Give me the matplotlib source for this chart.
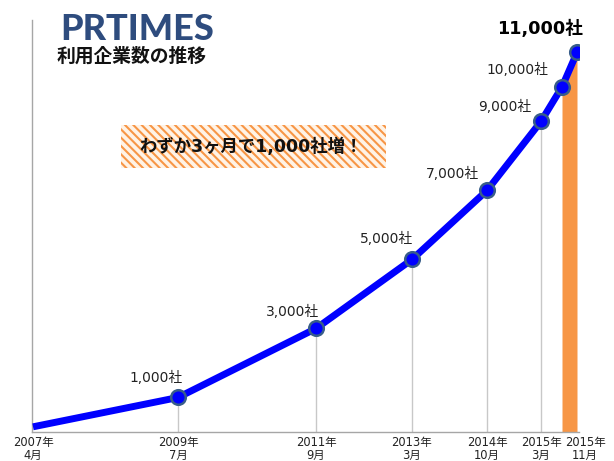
import matplotlib
matplotlib.use('Agg')
import matplotlib.pyplot as plt
from matplotlib.patches import Rectangle
import matplotlib.transforms as mtransforms

plt.rcParams['font.family'] = ['DejaVu Sans', 'Noto Sans CJK JP']
plt.rcParams['hatch.linewidth'] = 1.5

# ---- data ----
x_pos = [0, 145, 283, 379, 454, 508, 529, 544]
counts = [150, 1000, 3000, 5000, 7000, 9000, 10000, 11000]
point_labels = ['', '1,000社', '3,000社', '5,000社', '7,000社', '9,000社', '10,000社', '11,000社']
tick_idx = [0, 1, 2, 3, 4, 5, 7]
tick_labels = ['2007年\n4月', '2009年\n7月', '2011年\n9月', '2013年\n3月',
               '2014年\n10月', '2015年\n3月', '2015年\n11月']
logo_text = 'PRTIMES'
subtitle = '利用企業数の推移'
callout = 'わずか3ヶ月で1,000社増！'

# ---- styles / offsets ----
label_offsets = [(0, 0), (5, 20), (3, 17), (1, 21), (-8, 17), (-10, 15), (-14, 17), (6, 24)]
BLUE = '#0000FF'
ORANGE = '#F79646'
GRAY = '#A6A6A6'
CJK = ['DejaVu Sans', 'Noto Sans CJK JP']

fig = plt.figure(figsize=(6.14, 4.61), dpi=100)
ax = fig.add_axes([32/614, 29/461, 547/614, 412/461])
ax.set_xlim(-1, 546)
ax.set_ylim(0, 11940)

for s in ['top', 'right']:
    ax.spines[s].set_visible(False)
for s in ['left', 'bottom']:
    ax.spines[s].set_color(GRAY)
    ax.spines[s].set_linewidth(1.0)
ax.set_yticks([])

# drop lines
ax.vlines(x_pos[1:6], 0, counts[1:6], color='#C8C8C8', lw=1, zorder=1)

# orange area of last segment
ax.fill_between(x_pos[6:8], 0, counts[6:8], color=ORANGE, lw=0, zorder=1)

# line + markers
ax.plot(x_pos, counts, color=BLUE, lw=5, zorder=3, solid_capstyle='butt')
ax.plot(x_pos[1:], counts[1:], 'o', ms=10.5, mfc=BLUE, mec='#385D8A', mew=1.8, zorder=4)

# point labels
for i in range(1, len(x_pos)):
    dx, dy = label_offsets[i]
    last = (i == len(x_pos) - 1)
    ax.annotate(point_labels[i], (x_pos[i], counts[i]), xytext=(dx, dy),
                textcoords='offset pixels', ha='right', va='center',
                fontsize=12.7 if last else 9.9,
                fontweight='bold' if last else 'normal',
                color='black' if last else '#222222', zorder=5)

# x ticks
ax.set_xticks([x_pos[i] for i in tick_idx])
ax.set_xticklabels(tick_labels, fontsize=8.3, linespacing=0.95)
ax.tick_params(axis='x', length=0, pad=3, colors='#222222')
lbls = ax.get_xticklabels()
off = mtransforms.ScaledTranslation(8/100, 0, fig.dpi_scale_trans)
lbls[-1].set_transform(lbls[-1].get_transform() + off)

# logo and subtitle
fig.text(60/614, 1 - 40/461, logo_text, fontsize=26, fontweight='black',
         color='#2E4C7E', family='Lato', va='baseline', ha='left')
fig.text(57/614, 1 - 56/461, subtitle, fontsize=13.5, fontweight='bold',
         va='center', ha='left', color='#111111', family='Noto Sans CJK JP')

# callout
rect = Rectangle((121/614, 1 - 168/461), 265/614, 43/461, transform=fig.transFigure,
                 facecolor='#FFF3E6', edgecolor=ORANGE, hatch='\\\\\\\\', lw=0)
fig.patches.append(rect)
fig.text(251/614, 1 - 147/461, callout, fontsize=12.5, fontweight='bold',
         ha='center', va='center', color='#111111')

fig.savefig('out.png', dpi=100)
